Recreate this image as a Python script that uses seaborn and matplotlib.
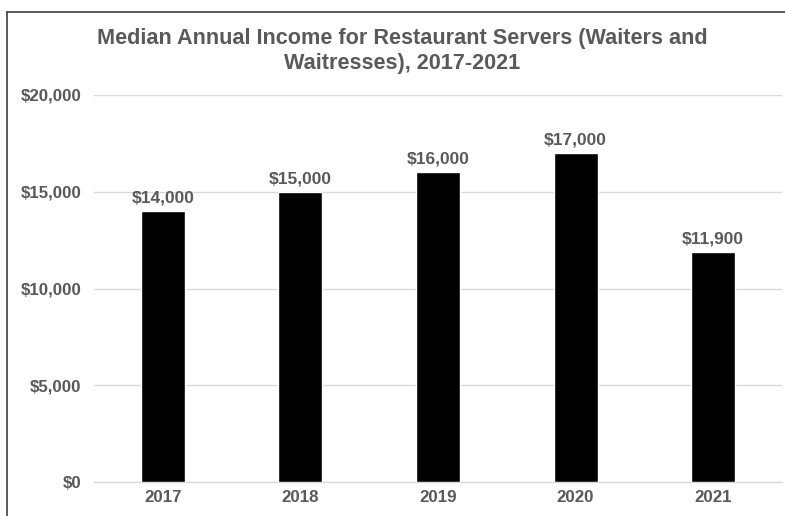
import matplotlib
matplotlib.use("Agg")
import matplotlib.pyplot as plt
from matplotlib.lines import Line2D
from matplotlib.ticker import FuncFormatter
import seaborn as sns
import pandas as pd

years = ["2017", "2018", "2019", "2020", "2021"]
income = [14000, 15000, 16000, 17000, 11900]
y_ticks = [0, 5000, 10000, 15000, 20000]

sns.set_theme(style="white")
plt.rcParams["font.family"] = ["Liberation Sans", "DejaVu Sans"]

TEXT = "#595959"
GRID = "#d9d9d9"

df = pd.DataFrame({"year": years, "income": income})

fig = plt.figure(figsize=(7.85, 5.16), dpi=100)
ax = fig.add_axes([94 / 785, 1 - 482 / 516, (782 - 94) / 785, (482 - 95) / 516])

sns.barplot(data=df, x="year", y="income", color="black", width=0.32,
            saturation=1, ax=ax, zorder=3)

ax.set_ylim(0, 20000)
ax.set_yticks(y_ticks)
ax.yaxis.set_major_formatter(FuncFormatter(lambda v, _: f"${v:,.0f}"))
ax.grid(axis="y", color=GRID, linewidth=1.0, zorder=0)
ax.grid(axis="x", visible=False)
for side in ["top", "right", "left"]:
    ax.spines[side].set_visible(False)
ax.spines["bottom"].set_color(GRID)
ax.spines["bottom"].set_linewidth(1.0)
ax.tick_params(axis="both", length=0, colors=TEXT, labelsize=12.2)
ax.tick_params(axis="y", pad=9)
ax.tick_params(axis="x", pad=6)
for lbl in ax.get_xticklabels() + ax.get_yticklabels():
    lbl.set_fontweight("bold")
ax.set_xlabel("")
ax.set_ylabel("")

for i, v in enumerate(income):
    ax.annotate(f"${v:,.0f}", (i, v), xytext=(0, 4), textcoords="offset points",
                ha="center", va="bottom", fontsize=12.5, fontweight="bold",
                color=TEXT)

fig.text(402 / 785, 1 - 51 / 516,
         "Median Annual Income for Restaurant Servers (Waiters and\nWaitresses), 2017-2021",
         ha="center", va="center", fontsize=15.6, fontweight="bold",
         color=TEXT, linespacing=1.22)

# chart frame
fx = 7 / 785
fy = 1 - 12 / 516
fig.add_artist(Line2D([fx, fx], [0, fy], color="#404040", linewidth=1.2))
fig.add_artist(Line2D([fx, 1], [fy, fy], color="#404040", linewidth=1.2))

fig.savefig("out.png", dpi=100)
